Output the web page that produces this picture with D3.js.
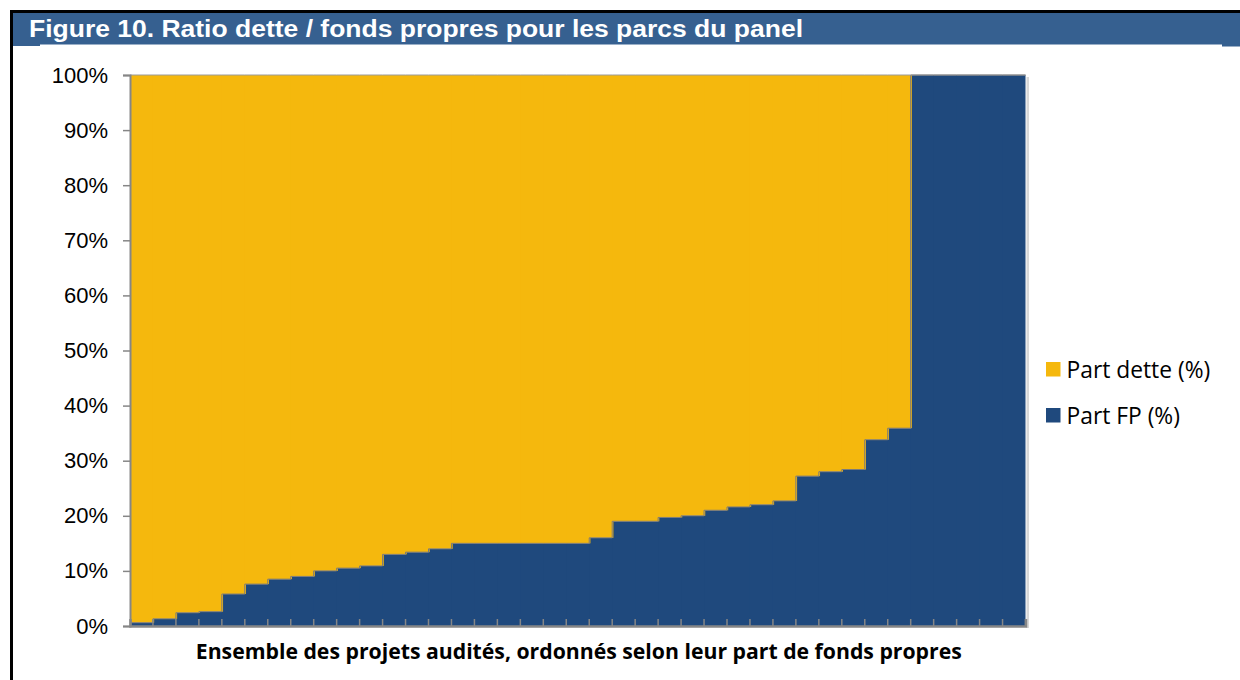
<!DOCTYPE html>
<html>
<head>
<meta charset="utf-8">
<script src="https://cdn.jsdelivr.net/npm/d3@7"></script>
<style>
  html, body { margin: 0; padding: 0; background: #ffffff; }
  svg { display: block; }
</style>
</head>
<body>
<div id="chart"></div>
<script>
// ---- données ----
const projets = d3.range(1, 40); // 39 parcs, ordonnés
const partFP = [0.6, 1.3, 2.4, 2.6, 5.8, 7.6, 8.5, 9.0, 10.0, 10.5, 10.9, 13.0, 13.4, 14.0,
  15, 15, 15, 15, 15, 15, 16.0, 19.0, 19.0, 19.7, 20.0, 21.0, 21.6, 22.0, 22.7,
  27.2, 28.0, 28.4, 33.8, 35.9, 100, 100, 100, 100, 100];
const partDette = [99.4, 98.7, 97.6, 97.4, 94.2, 92.4, 91.5, 91.0, 90.0, 89.5, 89.1, 87.0, 86.6, 86.0,
  85, 85, 85, 85, 85, 85, 84.0, 81.0, 81.0, 80.3, 80.0, 79.0, 78.4, 78.0, 77.3,
  72.8, 72.0, 71.6, 66.2, 64.1, 0, 0, 0, 0, 0];
const yTicks = [0, 10, 20, 30, 40, 50, 60, 70, 80, 90, 100];
const series = [
  { key: "fp", label: "Part FP (%)" },
  { key: "dette", label: "Part dette (%)" }
];
const legendOrder = ["dette", "fp"];

const COLORS = {
  fp: "#1f497d",
  dette: "#f5b80d",
  titleBg: "#366090",
  axis: "#868686",
  edge: "#7a7a7a"
};

const width = 1240, height = 680;
const plot = { left: 130, right: 1025.5, top: 75, bottom: 626 };

const svg = d3.select("#chart").append("svg")
  .attr("width", width).attr("height", height);

// cadre + bandeau titre
svg.append("rect").attr("x", 10).attr("y", 10).attr("width", 3).attr("height", height - 10).attr("fill", "#000");
svg.append("rect").attr("x", 10).attr("y", 10).attr("width", width - 10).attr("height", 3).attr("fill", "#000");
svg.append("rect").attr("x", 13).attr("y", 13).attr("width", width - 13).attr("height", 31.5).attr("fill", COLORS.titleBg);
svg.append("rect").attr("x", 13).attr("y", 44).attr("width", 27).attr("height", 2).attr("fill", COLORS.titleBg);
svg.append("rect").attr("x", 1222).attr("y", 44).attr("width", 18).attr("height", 2.5).attr("fill", COLORS.titleBg);

svg.append("text")
  .attr("x", 29).attr("y", 36.5)
  .attr("fill", "#fff")
  .attr("font-family", "'Liberation Sans', Arial, sans-serif")
  .attr("font-weight", "bold")
  .attr("font-size", "23.5px")
  .attr("textLength", 774)
  .attr("lengthAdjust", "spacingAndGlyphs")
  .text("Figure 10. Ratio dette / fonds propres pour les parcs du panel");

// échelles
const x = d3.scaleBand().domain(projets).range([plot.left, plot.right]).padding(0);
const y = d3.scaleLinear().domain([0, 100]).range([plot.bottom, plot.top]);

const rows = projets.map((p, i) => ({ id: p, fp: partFP[i], dette: partDette[i] }));
const stack = d3.stack().keys(series.map(s => s.key));
const layers = stack(rows);

const g = svg.append("g");

// ombre légère à droite de la zone
g.append("rect")
  .attr("x", plot.right + 1).attr("y", plot.top + 2)
  .attr("width", 2.5).attr("height", plot.bottom - plot.top)
  .attr("fill", "#d8d8d8");

layers.forEach(layer => {
  g.append("g").selectAll("rect")
    .data(layer)
    .join("rect")
    .attr("x", d => x(d.data.id))
    .attr("width", (d, i) => x.bandwidth() + (i < layer.length - 1 ? 1.2 : 0))
    .attr("y", d => y(d[1]))
    .attr("height", d => y(d[0]) - y(d[1]))
    .attr("fill", COLORS[layer.key]);
});

// contour en escalier entre les deux parts
const fpLayer = layers[0];
const stepPts = fpLayer.map(d => [x(d.data.id), y(d[1])]);
const last = fpLayer[fpLayer.length - 1];
stepPts.push([x(last.data.id) + x.bandwidth(), y(last[1])]);
g.append("path")
  .attr("d", d3.line().curve(d3.curveStepAfter)(stepPts))
  .attr("fill", "none")
  .attr("stroke", COLORS.edge)
  .attr("stroke-width", 1);

// bord haut de la part dette
const topPts = layers[1].map(d => [x(d.data.id), y(d[1])]);
topPts.push([plot.right, y(100)]);
g.append("path")
  .attr("d", d3.line()(topPts))
  .attr("fill", "none")
  .attr("stroke", "#9a9a9a")
  .attr("stroke-width", 1);

// axe Y
const yAxis = d3.axisLeft(y).tickValues(yTicks).tickSize(7).tickPadding(15)
  .tickFormat(d => d + "%");
const yG = svg.append("g").attr("transform", `translate(${plot.left},0)`).call(yAxis);
yG.select(".domain").attr("stroke", COLORS.axis).attr("stroke-width", 2);
yG.selectAll(".tick line").attr("stroke", COLORS.axis).attr("stroke-width", 1.5);
yG.selectAll(".tick text")
  .attr("fill", "#000")
  .attr("font-family", "'Liberation Sans', Arial, sans-serif")
  .attr("font-size", "22px");

// axe X (graduations vers l'intérieur, sans libellés)
const xAxis = d3.axisBottom(x).tickSize(-7).tickFormat("");
const xG = svg.append("g").attr("transform", `translate(0,${plot.bottom})`).call(xAxis);
xG.select(".domain").attr("stroke", COLORS.axis).attr("stroke-width", 2.5);
xG.selectAll(".tick").attr("transform", d => `translate(${x(d) + x.bandwidth()},0)`);
xG.selectAll(".tick line").attr("stroke", COLORS.axis).attr("stroke-width", 1.5);

// titre de l'axe X
svg.append("text")
  .attr("x", (plot.left + plot.right) / 2 + 1).attr("y", 659)
  .attr("text-anchor", "middle")
  .attr("fill", "#000")
  .attr("font-family", "'Open Sans', Lato, sans-serif")
  .attr("font-weight", "bold")
  .attr("font-size", "21px")
  .attr("textLength", 766)
  .attr("lengthAdjust", "spacingAndGlyphs")
  .text("Ensemble des projets audités, ordonnés selon leur part de fonds propres");

// légende
const legend = svg.append("g").attr("transform", "translate(1046,362)");
legendOrder.forEach((k, i) => {
  const s = series.find(d => d.key === k);
  const item = legend.append("g").attr("transform", `translate(0,${i * 46})`);
  item.append("rect").attr("width", 14.5).attr("height", 14.5).attr("fill", COLORS[k]);
  item.append("text")
    .attr("x", 20.5).attr("y", 15.5)
    .attr("fill", "#000")
    .attr("font-family", "'Open Sans', Lato, sans-serif")
    .attr("font-size", "22.8px")
    .text(s.label);
});
</script>
</body>
</html>
